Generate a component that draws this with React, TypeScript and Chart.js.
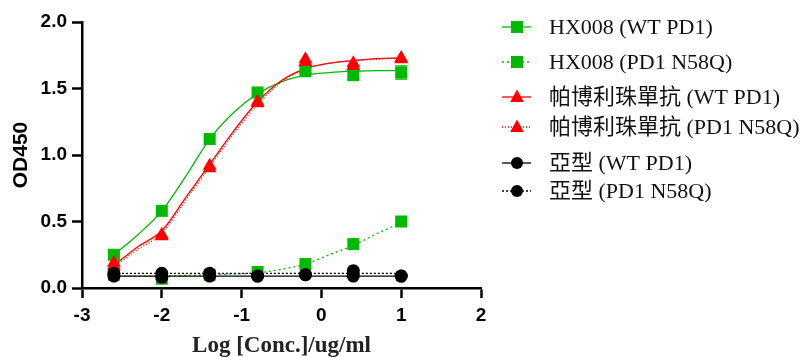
import React, { useEffect, useRef } from "react";
import { Chart, registerables } from "chart.js";

Chart.register(...registerables);

// Log concentration (ug/ml) of the measured points
const logConc = [-2.6, -2.0, -1.4, -0.8, -0.2, 0.4, 1.0];

// Measured OD450 values
const hxWt = [0.25, 0.58, 1.12, 1.47, 1.63, 1.6, 1.62];
const hxWtErr = [0, 0, 0, 0, 0.01, 0.03, 0.05];
const hxMut = [0.1, 0.07, 0.1, 0.12, 0.18, 0.33, 0.5];
const pemWt = [0.19, 0.4, 0.92, 1.4, 1.72, 1.69, 1.73];
const pemMut = [0.17, 0.39, 0.9, 1.39, 1.7, 1.67, 1.72];
const isoWt = [0.09, 0.08, 0.09, 0.09, 0.1, 0.09, 0.09];
const isoMut = [0.11, 0.11, 0.11, 0.09, 0.1, 0.13, 0.09];

// Fitted curves
const fitX = [-2.6, -2.3, -2.0, -1.7, -1.4, -1.1, -0.8, -0.5, -0.2, 0.1, 0.4, 0.7, 1.0];
const hxWtFit = [0.25, 0.4, 0.58, 0.84, 1.12, 1.32, 1.46, 1.55, 1.6, 1.62, 1.63, 1.635, 1.635];
const hxMutFit = [0.09, 0.09, 0.09, 0.095, 0.1, 0.105, 0.115, 0.14, 0.18, 0.25, 0.32, 0.41, 0.49];
const pemWtFit = [0.17, 0.31, 0.43, 0.68, 0.93, 1.18, 1.4, 1.56, 1.65, 1.69, 1.71, 1.725, 1.73];
const pemMutFit = [0.16, 0.29, 0.41, 0.66, 0.91, 1.16, 1.38, 1.55, 1.645, 1.69, 1.71, 1.72, 1.73];
const isoWtFit = [0.09, 0.09, 0.09, 0.09, 0.09, 0.09, 0.09, 0.09, 0.09, 0.09, 0.09, 0.09, 0.09];
const isoMutFit = [0.11, 0.11, 0.11, 0.11, 0.11, 0.11, 0.11, 0.11, 0.11, 0.11, 0.11, 0.11, 0.11];

const seriesLabels = [
  "HX008 (WT PD1)",
  "HX008 (PD1 N58Q)",
  "帕博利珠單抗 (WT PD1)",
  "帕博利珠單抗 (PD1 N58Q)",
  "亞型 (WT PD1)",
  "亞型 (PD1 N58Q)",
];

const xTitle = "Log [Conc.]/ug/ml";
const yTitle = "OD450";

const GREEN = "#00B900";
const RED = "#FF0000";
const BLACK = "#000000";

const styles = [
  { color: GREEN, dash: [] as number[], shape: "rect" },
  { color: GREEN, dash: [2, 3], shape: "rect" },
  { color: RED, dash: [] as number[], shape: "triangle" },
  { color: RED, dash: [1, 2], shape: "triangle" },
  { color: BLACK, dash: [] as number[], shape: "circle" },
  { color: BLACK, dash: [2, 2], shape: "circle" },
];

const pointSets = [hxWt, hxMut, pemWt, pemMut, isoWt, isoMut];
const fitSets = [hxWtFit, hxMutFit, pemWtFit, pemMutFit, isoWtFit, isoMutFit];
const pointRadii = { rect: 8.5, triangle: 8, circle: 6.5 } as Record<string, number>;

const legendRowY = [27, 62, 97, 127, 163, 191];

function drawMarker(ctx: CanvasRenderingContext2D, shape: string, x: number, y: number, s: number) {
  ctx.beginPath();
  if (shape === "rect") {
    ctx.rect(x - s, y - s, 2 * s, 2 * s);
  } else if (shape === "triangle") {
    ctx.moveTo(x, y - s * 1.15);
    ctx.lineTo(x + s * 1.05, y + s * 0.75);
    ctx.lineTo(x - s * 1.05, y + s * 0.75);
    ctx.closePath();
  } else {
    ctx.arc(x, y, s, 0, Math.PI * 2);
  }
  ctx.fill();
}

const legendPlugin = {
  id: "customLegend",
  afterDraw(chart: any) {
    const ctx = chart.ctx as CanvasRenderingContext2D;
    const x0 = chart.chartArea.right + 21;
    seriesLabels.forEach((label, i) => {
      const st = styles[i];
      const y = legendRowY[i];
      ctx.save();
      ctx.strokeStyle = st.color;
      ctx.lineWidth = 1.3;
      ctx.setLineDash(st.dash);
      ctx.beginPath();
      ctx.moveTo(x0, y);
      ctx.lineTo(x0 + 29, y);
      ctx.stroke();
      ctx.setLineDash([]);
      ctx.fillStyle = st.color;
      drawMarker(ctx, st.shape, x0 + 15, y, st.shape === "triangle" ? 6.5 : 6);
      ctx.fillStyle = "#111";
      ctx.font = '22px "Liberation Serif", "Noto Sans CJK TC", serif';
      ctx.textBaseline = "middle";
      ctx.textAlign = "left";
      ctx.fillText(label, x0 + 47, y + 1);
      ctx.restore();
    });
  },
};

const errorBarPlugin = {
  id: "errorBars",
  afterDatasetsDraw(chart: any) {
    const ctx = chart.ctx as CanvasRenderingContext2D;
    const xs = chart.scales.x;
    const ys = chart.scales.y;
    ctx.save();
    ctx.strokeStyle = GREEN;
    ctx.lineWidth = 1.3;
    logConc.forEach((lx, i) => {
      const e = hxWtErr[i];
      if (!e) return;
      const px = xs.getPixelForValue(lx);
      const top = ys.getPixelForValue(hxWt[i] + e);
      const bot = ys.getPixelForValue(hxWt[i] - e);
      ctx.beginPath();
      ctx.moveTo(px, top);
      ctx.lineTo(px, bot);
      ctx.moveTo(px - 6, top);
      ctx.lineTo(px + 6, top);
      ctx.moveTo(px - 6, bot);
      ctx.lineTo(px + 6, bot);
      ctx.stroke();
    });
    ctx.restore();
  },
};

export default function App() {
  const ref = useRef<HTMLCanvasElement>(null);
  useEffect(() => {
    if (!ref.current) return;
    const datasets: any[] = [];
    // fit curves
    fitSets.forEach((vals, i) => {
      datasets.push({
        label: seriesLabels[i] + " fit",
        data: fitX.map((x, j) => ({ x, y: vals[j] })),
        showLine: true,
        borderColor: styles[i].color,
        borderWidth: 1.3,
        borderDash: styles[i].dash,
        pointRadius: 0,
        cubicInterpolationMode: "monotone",
        fill: false,
        order: 20 - i,
      });
    });
    // measured points
    pointSets.forEach((vals, i) => {
      datasets.push({
        label: seriesLabels[i],
        data: logConc.map((x, j) => ({ x, y: vals[j] })),
        showLine: false,
        pointStyle: styles[i].shape,
        pointRadius: pointRadii[styles[i].shape],
        pointBackgroundColor: styles[i].color,
        pointBorderColor: styles[i].color,
        pointBorderWidth: 0,
        order: 10 - i,
      });
    });
    const tickFont = { family: '"Liberation Sans", Arial, sans-serif', size: 19, weight: "bold" as const };
    const chart = new Chart(ref.current, {
      type: "scatter",
      data: { datasets },
      options: {
        animation: false,
        responsive: true,
        maintainAspectRatio: false,
        layout: { padding: { left: 0, top: 22, right: 326, bottom: 0 } },
        plugins: { legend: { display: false }, tooltip: { enabled: false } },
        scales: {
          x: {
            type: "linear",
            min: -3,
            max: 2,
            afterFit: (s: any) => {
              s.height = 69;
            },
            border: { display: true, color: BLACK, width: 2.5 },
            grid: { display: true, drawOnChartArea: false, drawTicks: true, tickLength: 10, tickWidth: 2.5, tickColor: BLACK },
            ticks: { stepSize: 1, color: BLACK, font: tickFont, padding: 6, maxRotation: 0 },
            title: {
              display: true,
              text: xTitle,
              color: "#222",
              font: { family: '"Liberation Serif", "Times New Roman", serif', size: 23, weight: "bold" },
              padding: { top: 0, bottom: -3 },
            },
          },
          y: {
            type: "linear",
            min: 0,
            max: 2,
            afterFit: (s: any) => {
              s.width = 82;
            },
            border: { display: true, color: BLACK, width: 2.5 },
            grid: { display: true, drawOnChartArea: false, drawTicks: true, tickLength: 10, tickWidth: 2.5, tickColor: BLACK },
            ticks: {
              stepSize: 0.5,
              color: BLACK,
              font: tickFont,
              padding: 5,
              callback: (v: any) => Number(v).toFixed(1),
            },
            title: {
              display: true,
              text: yTitle,
              color: BLACK,
              font: { family: '"Liberation Sans", Arial, sans-serif', size: 21, weight: "bold" },
              padding: { top: 9, bottom: 0 },
            },
          },
        },
      },
      plugins: [errorBarPlugin, legendPlugin],
    });
    return () => chart.destroy();
  }, []);
  return (
    <div style={{ position: "fixed", left: 0, top: 0, width: 807, height: 357, background: "#fff" }}>
      <canvas ref={ref} />
    </div>
  );
}
